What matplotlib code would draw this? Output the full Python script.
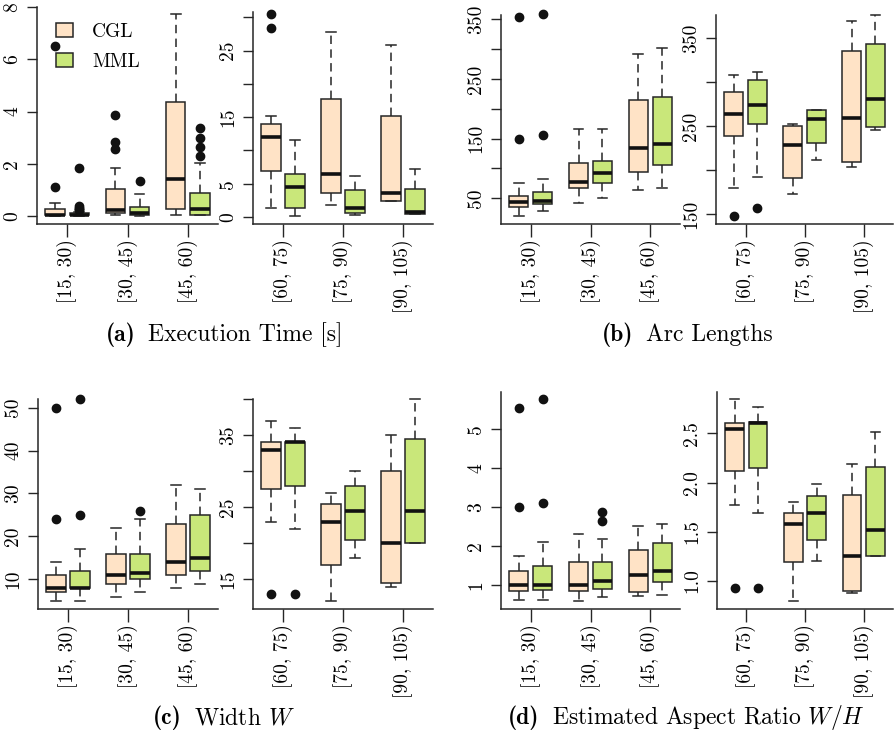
import matplotlib
matplotlib.use('Agg')
import matplotlib.pyplot as plt
from matplotlib.patches import Patch
from matplotlib.offsetbox import TextArea, HPacker, AnchoredOffsetbox

plt.rcParams['font.family'] = ['cmr10', 'DejaVu Serif']
plt.rcParams['mathtext.fontset'] = 'cm'
plt.rcParams['axes.formatter.use_mathtext'] = True
plt.rcParams['axes.unicode_minus'] = False

W, H = 894, 736

# ---------------- data ----------------
bins_left = ['[15, 30)', '[30, 45)', '[45, 60)']
bins_right = ['[60, 75)', '[75, 90)', '[90, 105)']
methods = ['CGL', 'MML']
colors = {'CGL': '#FFE3C6', 'MML': '#C9E77A'}

# (whisker low, Q1, median, Q3, whisker high) for the six length bins
time_cgl = [(0.0, 0.03, 0.05, 0.26, 0.51), (0.03, 0.10, 0.23, 1.03, 1.85), (0.05, 0.26, 1.41, 4.38, 7.73),
            (1.3, 6.9, 11.97, 13.97, 15.2), (1.8, 3.65, 6.46, 17.7, 27.8), (2.35, 2.45, 3.65, 15.2, 25.8)]
time_mml = [(0.0, 0.02, 0.05, 0.10, 0.15), (0.0, 0.04, 0.10, 0.36, 0.83), (0.02, 0.04, 0.26, 0.87, 2.04),
            (0.15, 1.3, 4.46, 6.4, 11.5), (0.3, 0.55, 1.4, 4.0, 6.2), (0.4, 0.4, 0.8, 4.15, 7.15)]
time_cgl_out = [[1.1, 6.52], [2.57, 2.85, 3.87], [], [28.4, 30.45], [], []]
time_mml_out = [[0.22, 0.27, 0.32, 0.37, 1.83], [1.35], [2.31, 2.66, 3.0, 3.36], [], [], []]

arc_cgl = [(20.3, 34.9, 43.3, 54.4, 75.1), (41.6, 67.8, 76.8, 109.7, 166.0), (63.9, 93.6, 134.3, 214.7, 291.8),
           (179.5, 239.0, 264.0, 289.3, 308.3), (173.0, 190.9, 229.0, 250.7, 252.6), (204.1, 209.4, 259.1, 335.9, 370.0)]
arc_mml = [(28.7, 41.0, 46.0, 60.6, 82.3), (51.0, 75.1, 91.9, 112.0, 166.0), (67.8, 106.3, 141.0, 220.3, 301.4),
           (192.0, 252.3, 274.5, 302.3, 312.0), (211.7, 230.7, 258.3, 268.2, 268.9), (245.8, 249.5, 281.0, 343.5, 377.0)]
arc_cgl_out = [[149.4, 354.3], [], [], [148.0], [], []]
arc_mml_out = [[156.0, 358.8], [], [], [156.8], [], []]

width_cgl = [(5.0, 7.0, 8.0, 11.0, 14.0), (6.0, 9.0, 11.0, 16.0, 22.0), (8.0, 11.0, 14.0, 23.0, 32.0),
             (23.0, 27.5, 33.0, 34.0, 37.0), (12.0, 17.0, 23.0, 25.5, 27.0), (14.0, 14.5, 20.0, 30.0, 35.0)]
width_mml = [(5.0, 8.0, 8.1, 12.0, 17.0), (7.0, 10.0, 11.5, 16.0, 24.0), (9.0, 12.0, 15.0, 25.0, 31.0),
             (22.0, 28.0, 34.0, 34.0, 36.0), (18.0, 20.5, 24.5, 28.0, 30.0), (20.0, 20.0, 24.5, 34.5, 40.0)]
width_cgl_out = [[24.0, 50.0], [], [], [13.0], [], []]
width_mml_out = [[25.0, 52.0], [26.0], [], [13.0], [], []]

aspect_cgl = [(0.61, 0.85, 1.0, 1.37, 1.75), (0.59, 0.84, 0.99, 1.58, 2.32), (0.72, 0.83, 1.26, 1.90, 2.51),
              (1.77, 2.12, 2.54, 2.61, 2.85), (0.80, 1.19, 1.58, 1.69, 1.80), (0.88, 0.90, 1.25, 1.87, 2.19)]
aspect_mml = [(0.61, 0.87, 1.0, 1.49, 2.11), (0.68, 0.90, 1.10, 1.58, 2.19), (0.74, 1.08, 1.35, 2.07, 2.58),
              (1.69, 2.15, 2.61, 2.62, 2.77), (1.20, 1.42, 1.69, 1.86, 1.99), (1.25, 1.25, 1.52, 2.16, 2.51)]
aspect_cgl_out = [[3.0, 5.56], [], [], [0.93], [], []]
aspect_mml_out = [[3.11, 5.78], [2.65, 2.88], [], [0.93], [], []]

# ---------------- layout (pixel boxes: left, right, top, bottom) ----------------
panels = [
    (time_cgl, time_mml, time_cgl_out, time_mml_out, (37, 218, 7, 224), (-0.31, 8.01),
     [0, 2, 4, 6, 8], ['0', '2', '4', '6', '8'], 0),
    (time_cgl, time_mml, time_cgl_out, time_mml_out, (253, 433, 12, 224), (-1.05, 30.8),
     [0, 5, 10, 15, 20, 25, 30], ['0', '5', '', '15', '', '25', ''], 3),
    (arc_cgl, arc_mml, arc_cgl_out, arc_mml_out, (501, 680, 15, 224), (7.0, 357.2),
     [50, 100, 150, 200, 250, 300, 350], ['50', '', '150', '', '250', '', '350'], 0),
    (arc_cgl, arc_mml, arc_cgl_out, arc_mml_out, (716, 893, 15, 224), (139.0, 376.5),
     [150, 200, 250, 300, 350], ['150', '', '250', '', '350'], 3),
    (width_cgl, width_mml, width_cgl_out, width_mml_out, (38, 218, 399, 609), (3.1, 52.0),
     [10, 20, 30, 40, 50], ['10', '20', '30', '40', '50'], 0),
    (width_cgl, width_mml, width_cgl_out, width_mml_out, (253, 433, 399, 609), (10.9, 40.0),
     [15, 20, 25, 30, 35, 40], ['15', '', '25', '', '35', ''], 3),
    (aspect_cgl, aspect_mml, aspect_cgl_out, aspect_mml_out, (501, 680, 392, 609), (0.383, 5.96),
     [1, 2, 3, 4, 5], ['1', '2', '3', '4', '5'], 0),
    (aspect_cgl, aspect_mml, aspect_cgl_out, aspect_mml_out, (717, 893, 392, 609), (0.715, 2.92),
     [1.0, 1.5, 2.0, 2.5], ['1.0', '1.5', '2.0', '2.5'], 3),
]

captions = [
    (224, 335, '(a)', 'Execution Time [s]'),
    (687, 335, '(b)', 'Arc Lengths'),
    (224, 718, '(c)', r'Width $W$'),
    (686, 718, '(d)', r'Estimated Aspect Ratio $W/H$'),
]

fig = plt.figure(figsize=(W / 100, H / 100), dpi=100)
edge = '#262626'
FS = 14

axes = []
for (cgl, mml, cgl_out, mml_out, box, ylim, yt, ytl, start) in panels:
    l, r, t, b = box
    ax = fig.add_axes([l / W, 1 - b / H, (r - l) / W, (b - t) / H])
    axes.append(ax)
    for m, data, outs, off in (('CGL', cgl, cgl_out, -0.2), ('MML', mml, mml_out, 0.2)):
        stats = []
        for i in range(start, start + 3):
            wl, q1, med, q3, wh = data[i]
            stats.append(dict(whislo=wl, q1=q1, med=med, q3=q3, whishi=wh, fliers=outs[i]))
        res = ax.bxp(stats, positions=[1 + off, 2 + off, 3 + off], widths=0.32, capwidths=0.16,
                     patch_artist=True, showfliers=True, manage_ticks=False,
                     boxprops=dict(facecolor=colors[m], edgecolor=edge, linewidth=1.1),
                     whiskerprops=dict(color=edge, linewidth=1.1, linestyle=(0, (5.5, 3.5))),
                     capprops=dict(color=edge, linewidth=1.1),
                     medianprops=dict(color='#111111', linewidth=2.6, solid_capstyle='butt'),
                     flierprops=dict(marker='o', markerfacecolor='#111111', markeredgecolor='#111111',
                                     markersize=6.0, linestyle='none'))
        for fl in res['fliers']:
            fl.set_clip_on(False)
        for c in res['caps'] + res['whiskers']:
            c.set_clip_on(False)
    ax.set_xlim(0.5, 3.5)
    ax.set_ylim(*ylim)
    ax.set_xticks([1, 2, 3])
    labels = bins_left if start == 0 else bins_right
    ax.set_xticklabels(labels, rotation=90, fontsize=FS, va='top', ha='center')
    ax.set_yticks(yt)
    ax.set_yticklabels(ytl, rotation=90, fontsize=FS, va='center', ha='right')
    ax.tick_params(axis='x', length=9, width=1.0, color=edge, pad=2)
    ax.tick_params(axis='y', length=7.5, width=1.0, color=edge, pad=4)
    for s in ('top', 'right'):
        ax.spines[s].set_visible(False)
    for s in ('left', 'bottom'):
        ax.spines[s].set_color(edge)
        ax.spines[s].set_linewidth(1.1)
    ax.patch.set_alpha(0)

handles = [Patch(facecolor=colors[m], edgecolor=edge, linewidth=1.1) for m in methods]
axes[0].legend(handles, methods, loc='upper left', bbox_to_anchor=(56 / W, 1 - 23 / H),
               bbox_transform=fig.transFigure, frameon=False, fontsize=FS,
               handlelength=0.85, handleheight=0.7, handletextpad=1.0, labelspacing=0.6,
               borderpad=0, borderaxespad=0)

for x, y, tag, s in captions:
    packed = HPacker(children=[TextArea(tag, textprops=dict(fontsize=17, family='cmb10')),
                               TextArea(s, textprops=dict(fontsize=17))],
                     align='baseline', pad=0, sep=9)
    anchored = AnchoredOffsetbox(loc='center', child=packed, pad=0, borderpad=0, frameon=False,
                                 bbox_to_anchor=(x / W, 1 - y / H), bbox_transform=fig.transFigure)
    fig.add_artist(anchored)

fig.savefig('out.png', dpi=100)
